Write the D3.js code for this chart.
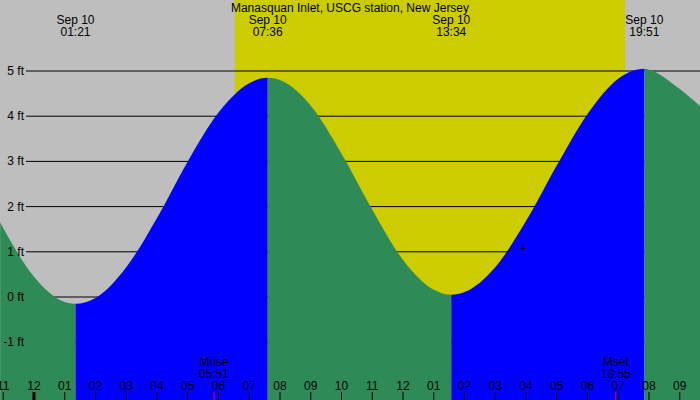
<!DOCTYPE html>
<html><head><meta charset="utf-8">
<script src="https://cdn.jsdelivr.net/npm/d3@7"></script>
<style>body{margin:0;background:#bebebe}svg{display:block;font-family:"Liberation Sans",Arial,sans-serif}</style>
</head><body><svg id="c" width="700" height="400"></svg>
<script>
// hours since midnight Sep 10, heights in ft
const hours   = [-1.1, 0, 1, 1.35, 2, 3, 4, 5, 6, 7, 7.6, 8, 9, 10, 11, 12, 13, 13.57, 14, 15, 16, 17, 18, 19, 19.85, 20, 21, 21.7];
const heights = [1.65, 0.45, -0.11, -0.15, -0.02, 0.66, 1.75, 3.0, 4.08, 4.73, 4.85, 4.8, 4.23, 3.17, 1.93, 0.82, 0.16, 0.05, 0.11, 0.66, 1.68, 2.91, 4.05, 4.83, 5.05, 5.03, 4.6, 4.2];
const extremeHours = [1.35, 7.6, 13.57, 19.85];
const extremeLabels = ["01:21", "07:36", "13:34", "19:51"];
const sunrise = 6.53, sunset = 19.22;
const moonEvents = [{h: 5.85, name: "Mrise", t: "05:51"}, {h: 18.92, name: "Mset", t: "18:55"}];
const ftTicks = [-1, 0, 1, 2, 3, 4, 5];
const hourTicks = d3.range(-1, 22);

const svg = d3.select("#c");
const x = d3.scaleLinear().domain([0, 8]).range([34, 280]);
const y = d3.scaleLinear().domain([0, 5]).range([297, 71]);

svg.append("rect").attr("x", x(sunrise)).attr("y", 0)
  .attr("width", x(sunset) - x(sunrise)).attr("height", 400).attr("fill", "#cccc00");

svg.selectAll(".grid").data(ftTicks).join("line")
  .attr("x1", 26).attr("x2", 700).attr("y1", d => y(d)).attr("y2", d => y(d))
  .attr("stroke", "#000");

// split curve into rising (blue) and falling (green) pieces
const bounds = [-2].concat(extremeHours, [23]);
const pts = hours.map((h, i) => [h, heights[i]]);
const area = d3.area().x(d => x(d[0])).y0(400).y1(d => y(d[1])).curve(d3.curveMonotoneX);
const full = area(pts);
svg.append("defs").selectAll("clipPath").data(d3.range(bounds.length - 1)).join("clipPath")
  .attr("id", i => "seg" + i)
  .append("rect").attr("x", i => x(bounds[i])).attr("width", i => x(bounds[i + 1]) - x(bounds[i]))
  .attr("y", 0).attr("height", 400);
svg.selectAll(".seg").data(d3.range(bounds.length - 1)).join("path")
  .attr("d", full).attr("clip-path", i => `url(#seg${i})`)
  .attr("fill", i => i % 2 ? "#0000ff" : "#2e8b57");

svg.selectAll(".ftl").data(ftTicks).join("text")
  .attr("x", 24).attr("y", d => y(d) + 4).attr("text-anchor", "end")
  .attr("font-size", 12).text(d => d + " ft");
svg.append("text").attr("x", x(15.9)).attr("y", 252).attr("text-anchor", "middle")
  .attr("font-size", 11).text("+");

svg.append("text").attr("x", 350).attr("y", 12).attr("text-anchor", "middle")
  .attr("font-size", 12).text("Manasquan Inlet, USCG station, New Jersey");
const ex = svg.selectAll(".ex").data(extremeHours).join("g");
ex.append("text").attr("x", d => x(d)).attr("y", 24).attr("text-anchor", "middle")
  .attr("font-size", 12).text("Sep 10");
ex.append("text").attr("x", d => x(d)).attr("y", 36).attr("text-anchor", "middle")
  .attr("font-size", 12).text((d, i) => extremeLabels[i]);

svg.selectAll(".ht").data(hourTicks).join("line")
  .attr("x1", d => x(d)).attr("x2", d => x(d)).attr("y1", 392).attr("y2", 400)
  .attr("stroke", "#000").attr("stroke-width", d => d === 0 ? 3 : 1);
svg.selectAll(".hl").data(hourTicks).join("text")
  .attr("x", d => x(d)).attr("y", 390).attr("text-anchor", "middle").attr("font-size", 12)
  .text(d => d3.format("02")(((d % 12) + 12) % 12 || 12));

const m = svg.selectAll(".moon").data(moonEvents).join("g");
m.append("line").attr("x1", d => x(d.h)).attr("x2", d => x(d.h)).attr("y1", 392).attr("y2", 400)
  .attr("stroke", "red");
m.append("text").attr("x", d => x(d.h)).attr("y", 366).attr("text-anchor", "middle")
  .attr("font-size", 12).text(d => d.name);
m.append("text").attr("x", d => x(d.h)).attr("y", 378).attr("text-anchor", "middle")
  .attr("font-size", 12).text(d => d.t);
</script></body></html>
